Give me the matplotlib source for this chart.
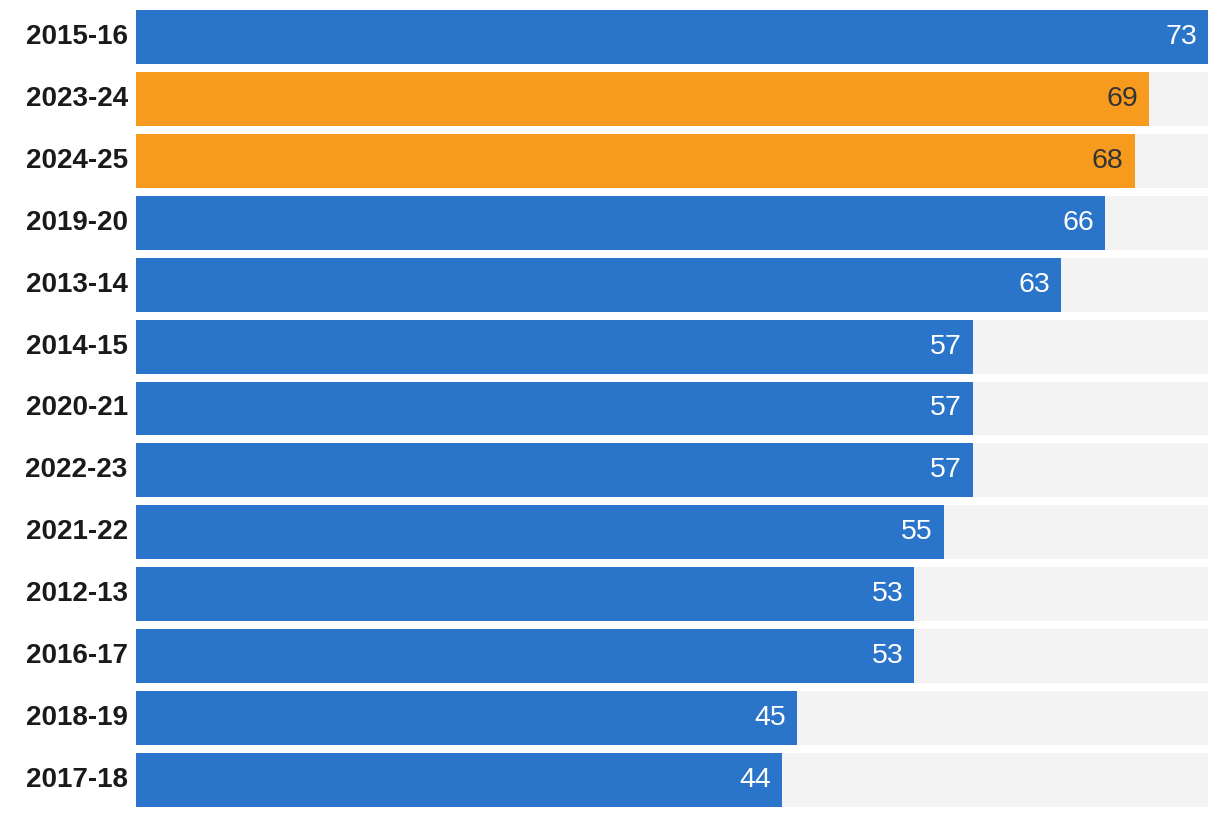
import matplotlib
matplotlib.use('Agg')
from matplotlib import pyplot as plt

seasons = ['2015-16', '2023-24', '2024-25', '2019-20', '2013-14', '2014-15',
           '2020-21', '2022-23', '2021-22', '2012-13', '2016-17', '2018-19',
           '2017-18']
values = [73, 69, 68, 66, 63, 57, 57, 57, 55, 53, 53, 45, 44]
highlight = ['2023-24', '2024-25']

blue = '#2a74c9'
orange = '#f79b1f'
track = '#f3f3f3'

plt.rcParams['font.family'] = ['Liberation Sans', 'DejaVu Sans']

fig = plt.figure(figsize=(12.2, 8.18), dpi=100)
ax = fig.add_axes([136 / 1220, 11 / 818, 1072 / 1220, 797 / 818])

max_val = max(values)
h = 0.87
ys = list(range(len(seasons)))

# grey tracks behind the bars
ax.barh(ys, [max_val] * len(seasons), height=h, color=track, zorder=1)
colors = [orange if s in highlight else blue for s in seasons]
ax.barh(ys, values, height=h, color=colors, zorder=2)

for y, v, s in zip(ys, values, seasons):
    txt_color = '#333333' if s in highlight else 'white'
    ax.annotate(str(v), xy=(v, y), xytext=(-8, 0), textcoords='offset points',
                ha='right', va='center', fontsize=20.5, color=txt_color, zorder=3)

ax.set_xlim(0, max_val)
ax.set_ylim(len(seasons) - 1 + h / 2, -h / 2)
ax.set_yticks(ys)
ax.set_yticklabels(seasons, fontsize=20, fontweight='bold', color='#1a1a1a',
                   va='center')
ax.tick_params(axis='y', length=0, pad=6)
ax.set_xticks([])
for spine in ax.spines.values():
    spine.set_visible(False)

fig.savefig('out.png', dpi=100)
